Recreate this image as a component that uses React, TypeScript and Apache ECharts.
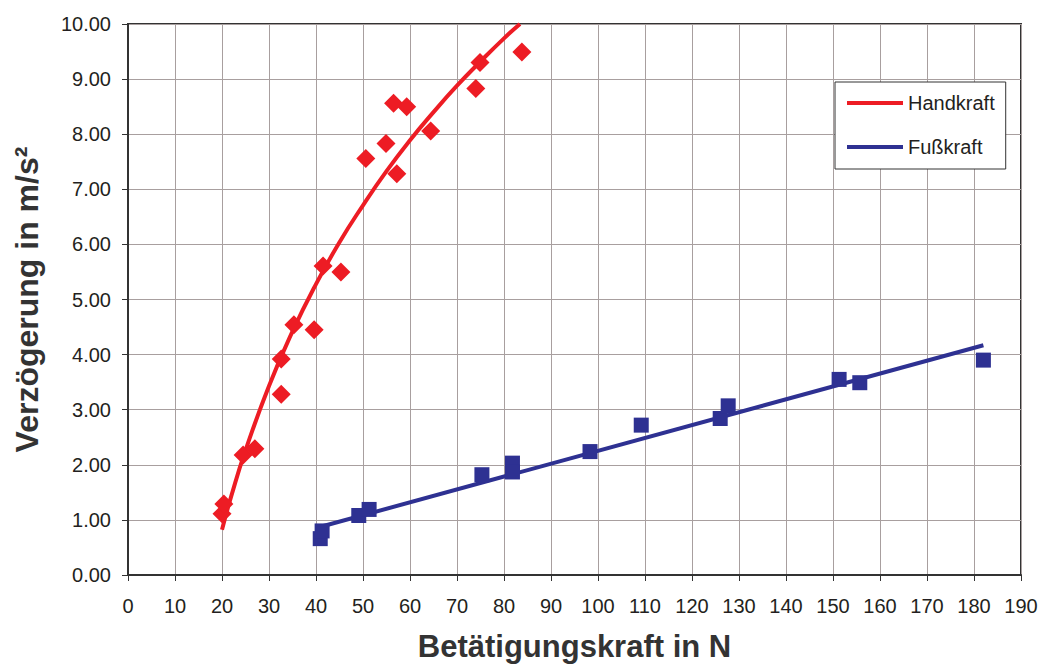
import React, { useEffect, useRef } from "react";
import * as echarts from "echarts";

// Handkraft measurements [force N, deceleration m/s²]
const handX = [20.0, 20.4, 24.5, 27.0, 32.6, 32.6, 35.3, 39.6, 41.5, 45.3, 50.6, 54.9, 56.5, 59.3, 57.2, 64.4, 74.0, 74.9, 83.8];
const handY = [1.11, 1.29, 2.18, 2.29, 3.92, 3.28, 4.54, 4.45, 5.61, 5.50, 7.56, 7.83, 8.56, 8.50, 7.28, 8.06, 8.83, 9.30, 9.49];

// Fußkraft measurements
const footX = [40.9, 41.3, 49.1, 51.3, 75.3, 81.8, 81.8, 98.3, 109.2, 126.0, 127.7, 151.3, 155.7, 182.0];
const footY = [0.66, 0.80, 1.08, 1.19, 1.82, 2.03, 1.87, 2.24, 2.72, 2.84, 3.07, 3.55, 3.49, 3.90];

// Trend lines
const handTrendX = [20.0, 22, 25, 30, 35, 40, 45, 50, 55, 60, 65, 70, 75, 80, 83.4];
const handTrendY = [0.82, 1.44, 2.26, 3.43, 4.42, 5.28, 6.04, 6.71, 7.33, 7.89, 8.40, 8.88, 9.32, 9.74, 10.0];
const footTrendX = [41.0, 182.0];
const footTrendY = [0.875, 4.17];

const xTicks = { min: 0, max: 190, interval: 10 };
const yTicks = { min: 0, max: 10, interval: 1 };

const RED = "#ed1c24";
const BLUE = "#2e3192";
const TXT = "#231f20";
const FONT = "Liberation Sans, Arial, sans-serif";

const zip = (a: number[], b: number[]) => a.map((v, i) => [v, b[i]]);

export default function App() {
  const ref = useRef<HTMLDivElement>(null);
  useEffect(() => {
    if (!ref.current) return;
    const chart = echarts.init(ref.current, undefined, { renderer: "svg" });
    chart.setOption({
      animation: false,
      backgroundColor: "#fff",
      textStyle: { fontFamily: FONT },
      grid: {
        left: 128,
        right: 23,
        top: 24,
        bottom: 94,
        show: true,
        borderColor: "#333",
        borderWidth: 2,
      },
      legend: {
        data: [
          { name: "Handkraft", icon: "rect" },
          { name: "Fußkraft", icon: "rect" },
        ],
        orient: "vertical",
        left: 835,
        top: 82,
        itemWidth: 56,
        itemHeight: 4,
        itemGap: 24,
        padding: [11, 11, 12, 12],
        borderColor: "#333",
        borderWidth: 1,
        borderRadius: 0,
        backgroundColor: "#fff",
        textStyle: { fontFamily: FONT, fontSize: 20, color: TXT },
      },
      xAxis: {
        type: "value",
        ...xTicks,
        name: "Betätigungskraft in N",
        nameLocation: "middle",
        nameGap: 56,
        nameTextStyle: { fontFamily: FONT, fontSize: 31, fontWeight: "bold", color: "#333" },
        axisLine: { show: true, lineStyle: { color: "#333", width: 2 } },
        axisTick: { show: true, length: 6, lineStyle: { color: "#333", width: 1 } },
        axisLabel: { fontFamily: FONT, fontSize: 20, color: TXT, margin: 21 },
        splitLine: { show: true, lineStyle: { color: "#a89f9f", width: 1 } },
      },
      yAxis: {
        type: "value",
        ...yTicks,
        name: "Verzögerung in m/s²",
        nameLocation: "middle",
        nameGap: 85,
        nameRotate: 90,
        nameTextStyle: { fontFamily: FONT, fontSize: 32, fontWeight: "bold", color: "#333" },
        axisLine: { show: true, lineStyle: { color: "#333", width: 2 } },
        axisTick: { show: true, length: 6, lineStyle: { color: "#333", width: 1 } },
        axisLabel: {
          fontFamily: FONT,
          fontSize: 20,
          color: TXT,
          margin: 17,
          formatter: (v: number) => v.toFixed(2),
        },
        splitLine: { show: true, lineStyle: { color: "#a89f9f", width: 1 } },
      },
      series: [
        {
          name: "Handkraft",
          type: "line",
          data: zip(handTrendX, handTrendY),
          smooth: true,
          symbol: "none",
          lineStyle: { color: RED, width: 4 },
          itemStyle: { color: RED },
          z: 3,
        },
        {
          name: "Fußkraft",
          type: "line",
          data: zip(footTrendX, footTrendY),
          symbol: "none",
          lineStyle: { color: BLUE, width: 4 },
          itemStyle: { color: BLUE },
          z: 3,
        },
        {
          name: "HandkraftPunkte",
          type: "scatter",
          data: zip(handX, handY),
          symbol: "diamond",
          symbolSize: 19,
          itemStyle: { color: RED, opacity: 1 },
          z: 4,
        },
        {
          name: "FußkraftPunkte",
          type: "scatter",
          data: zip(footX, footY),
          symbol: "rect",
          symbolSize: 15,
          itemStyle: { color: BLUE, opacity: 1 },
          z: 4,
        },
      ],
    });
    return () => chart.dispose();
  }, []);
  return <div ref={ref} style={{ width: 1044, height: 669, position: "absolute", left: 0, top: 0 }} />;
}
